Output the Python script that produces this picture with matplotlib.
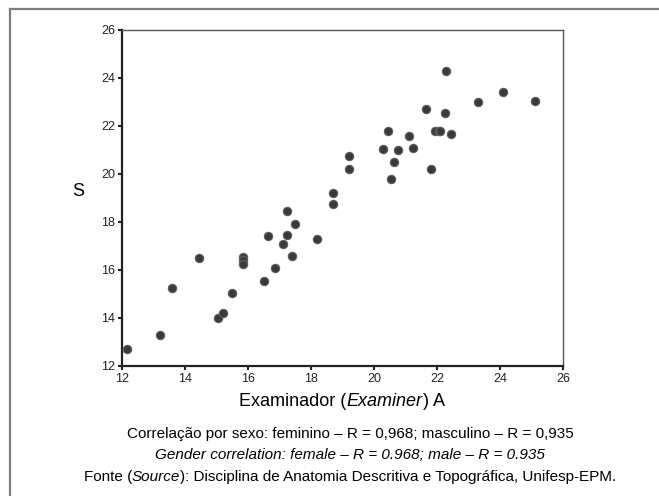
import matplotlib.pyplot as plt
from matplotlib.lines import Line2D

W, H = 659, 496

# Examinador A (x) vs S (y)
exam_a = [12.15, 13.2, 13.6, 14.45, 15.05, 15.2, 15.5, 15.85, 15.85, 15.85,
          16.5, 16.65, 16.85, 17.1, 17.25, 17.25, 17.4, 17.5, 18.2, 18.7,
          18.7, 19.2, 19.2, 20.3, 20.45, 20.55, 20.65, 20.75, 21.1, 21.25,
          21.65, 21.8, 21.95, 22.05, 22.1, 22.25, 22.3, 22.45, 23.3, 24.1, 25.1]
exam_s = [12.7, 13.3, 15.25, 16.5, 14.0, 14.2, 15.05, 16.55, 16.4, 16.25,
          15.55, 17.4, 16.1, 17.1, 18.45, 17.45, 16.6, 17.9, 17.3, 18.75,
          19.2, 20.2, 20.75, 21.05, 21.8, 19.8, 20.5, 21.0, 21.6, 21.1,
          22.7, 20.2, 21.8, 21.8, 21.8, 22.55, 24.3, 21.65, 23.0, 23.4, 23.05]

ticks = [12, 14, 16, 18, 20, 22, 24, 26]

# text pieces: (text, italic?)
xlabel_parts = [('Examinador (', False), ('Examiner', True), (') A', False)]
caption1 = 'Correlação por sexo: feminino – R = 0,968; masculino – R = 0,935'
caption2 = 'Gender correlation: female – R = 0.968; male – R = 0.935'
caption3_parts = [('Fonte (', False), ('Source', True),
                  ('): Disciplina de Anatomia Descritiva e Topográfica, Unifesp-EPM.', False)]

plt.rcParams['font.family'] = ['Liberation Sans', 'DejaVu Sans']


def fx(px):
    return px / W


def fy(py):
    return 1 - py / H


fig = plt.figure(figsize=(W / 100, H / 100), dpi=100)
ax = fig.add_axes([fx(122), fy(366), (563 - 122) / W, (366 - 30) / H])

ax.scatter(exam_a, exam_s, s=36, marker='o', c='#3a3a3a',
           edgecolors='#5e5e5e', linewidths=0.8, zorder=3, clip_on=False)

ax.set_xlim(12, 26)
ax.set_ylim(12, 26)
ax.set_xticks(ticks)
ax.set_yticks(ticks)
ax.tick_params(direction='out', length=3, width=1.5, labelsize=9, pad=2,
               colors='#222222')

for side in ['left', 'bottom']:
    ax.spines[side].set_linewidth(1.6)
    ax.spines[side].set_color('#222222')
for side in ['top', 'right']:
    ax.spines[side].set_linewidth(1.0)
    ax.spines[side].set_color('#555555')

fig.canvas.draw()
r = fig.canvas.get_renderer()


def mixed_line(parts, cx, cy, size):
    # put pieces side by side, centred on cx (pixels)
    items = []
    for txt, it in parts:
        t = fig.text(0, fy(cy), txt, fontsize=size, va='center',
                     style='italic' if it else 'normal')
        items.append((t, t.get_window_extent(r).width))
    x = cx - sum(w for _, w in items) / 2
    for t, w in items:
        t.set_x(fx(x))
        x += w


fig.text(fx(78), fy(192), 'S', fontsize=13, ha='center', va='center')
mixed_line(xlabel_parts, 342, 402, 13)

fig.text(fx(350), fy(434), caption1, fontsize=11, ha='center', va='center')
fig.text(fx(350), fy(455), caption2, fontsize=11, ha='center', va='center',
         style='italic')
mixed_line(caption3_parts, 350, 477, 11)

# outer frame (only left and top edges are visible)
fig.add_artist(Line2D([fx(10), fx(10)], [0, fy(9)], color='#7f7f7f', lw=1.6))
fig.add_artist(Line2D([fx(10), 1], [fy(9), fy(9)], color='#7f7f7f', lw=1.6))

fig.savefig('out.png', dpi=100)
